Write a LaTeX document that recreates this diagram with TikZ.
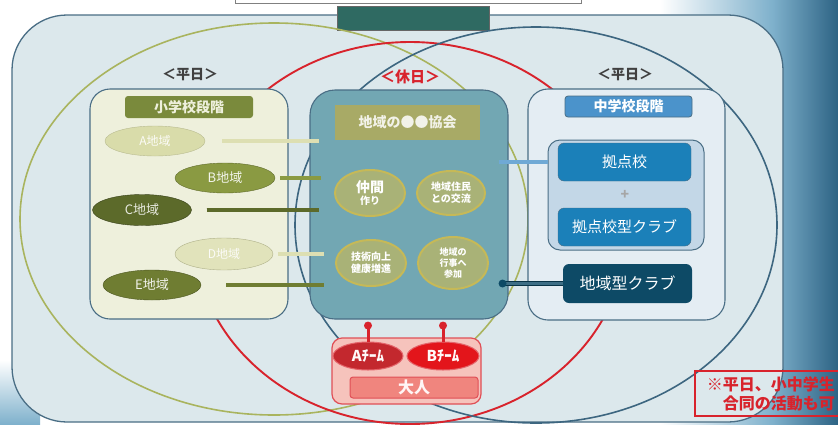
\documentclass[tikz,border=0pt]{standalone}
\usepackage{fontspec}
\setmainfont{Noto Sans CJK JP}
\usetikzlibrary{shapes.geometric,calc}
\definecolor{frame}{HTML}{4A6E85}
\definecolor{bigfill}{HTML}{DCE8EC}
\definecolor{olvline}{HTML}{A9B45E}
\definecolor{redline}{HTML}{D8232C}
\definecolor{bluline}{HTML}{3D6680}
\definecolor{lpanel}{HTML}{EEF0DC}
\definecolor{lhdr}{HTML}{7A8A3C}
\definecolor{midfill}{HTML}{72A7B3}
\definecolor{midhdr}{HTML}{A8AA66}
\definecolor{midov}{HTML}{A9B277}
\definecolor{midovb}{HTML}{C6B957}
\definecolor{rpanel}{HTML}{E4EDF3}
\definecolor{rhdr}{HTML}{4B93CB}
\definecolor{grpfill}{HTML}{C3D7E7}
\definecolor{kyo}{HTML}{1B80B9}
\definecolor{chiiki}{HTML}{0D4A66}
\definecolor{pinkbox}{HTML}{F6C3BC}
\definecolor{darkred}{HTML}{C3282E}
\definecolor{brightred}{HTML}{E3151B}
\definecolor{salmon}{HTML}{F0857E}
\definecolor{paleov}{HTML}{D9DCAA}
\definecolor{oliveB}{HTML}{8A9A42}
\definecolor{oliveC}{HTML}{5C6A2A}
\definecolor{oliveE}{HTML}{6F7D32}
\definecolor{toplbl}{HTML}{2F6A62}
\definecolor{bgdark}{HTML}{2D6384}
\definecolor{bglight}{HTML}{7FB1CC}
\tikzset{
  panel/.style={draw=frame, line width=1.1pt, rounded corners=20pt, inner sep=0pt},
  hdr/.style={rounded corners=3pt, inner sep=0pt, font=\bfseries\fontsize{14}{14}\selectfont},
  oval/.style={ellipse, inner sep=0pt},
  bigoval/.style={ellipse, inner sep=0pt, line width=1.6pt},
  wkday/.style={font=\bfseries\fontsize{14}{14}\selectfont, text=black!75},
  midtxt/.style={text=white, align=center, font=\bfseries\fontsize{10}{12}\selectfont},
  rbox/.style={rounded corners=6pt, inner sep=0pt, text=white, font=\fontsize{15}{15}\selectfont},
  barpale/.style={draw=olvline!80!black, double=paleov!90!white, double distance=3.5pt, line width=0.6pt},
  barB/.style={draw=oliveB!70!black, double=oliveB, double distance=3.5pt, line width=0.6pt},
  barC/.style={draw=oliveC!70!black, double=oliveC, double distance=3.5pt, line width=0.6pt},
  barE/.style={draw=oliveE!70!black, double=oliveE, double distance=3.5pt, line width=0.6pt},
  redbar/.style={draw=redline, line width=3pt},
}
\begin{document}
\begin{tikzpicture}[x=1pt,y=-1pt]
\useasboundingbox (0,0) rectangle (838,424);
% background
\fill[white] (0,0) rectangle (838,424);
\shade[left color=white, right color=bglight] (660,0) rectangle (772,424);
\shade[left color=bglight, right color=bgdark] (772,0) rectangle (838,424);
\shade[top color=white, bottom color=bglight] (0,360) rectangle (40,424);
% top white box
\node[draw=black!50, fill=white, minimum width=346pt, minimum height=9pt, inner sep=0pt] (topbox) at (408,-1.5) {};
% big rounded area
\node[draw=frame, fill=bigfill, line width=1.3pt, rounded corners=55pt, minimum width=771pt, minimum height=407pt, inner sep=0pt] (big) at (397.5,218.5) {};
% top dark label
\node[draw=black!60, fill=toplbl, minimum width=152pt, minimum height=24pt, inner sep=0pt] (toplabel) at (413,18) {};
% big circles
\node[bigoval, draw=olvline, minimum width=508pt, minimum height=392pt] (olvC) at (274,219) {};
\node[bigoval, draw=redline, line width=1.9pt, minimum width=432pt, minimum height=382pt] (redC) at (410,233) {};
\node[bigoval, draw=bluline, minimum width=482pt, minimum height=396pt] (bluC) at (536,225) {};
% weekday / holiday labels
\node[wkday] (wkL) at (190,75) {＜平日＞};
\node[wkday] (wkR) at (625,75) {＜平日＞};
\node[font=\bfseries\fontsize{15}{15}\selectfont, text=redline] (hol) at (410,77) {＜休日＞};
% left panel
\node[panel, fill=lpanel, minimum width=198pt, minimum height=230pt] (L) at (189,204) {};
\node[hdr, fill=lhdr, text=lpanel, minimum width=128pt, minimum height=22pt] (LH) at (189,107) {小学校段階};
\node[oval, fill=paleov, draw=paleov!85!black, minimum width=100pt, minimum height=30pt, text=white!90!paleov, font=\fontsize{12}{12}\selectfont] (A) at (155,141) {A地域};
\node[oval, fill=oliveB, draw=oliveB!70!black, minimum width=100pt, minimum height=30pt, text=white!90!oliveB, font=\fontsize{13}{13}\selectfont] (B) at (225,178) {B地域};
\node[oval, fill=oliveC, draw=oliveC!60!black, minimum width=99pt, minimum height=31pt, text=white!85!oliveC, font=\fontsize{13}{13}\selectfont] (C) at (142,210) {C地域};
\node[oval, fill=paleov!80!white, draw=paleov!80!black, minimum width=98pt, minimum height=32pt, text=white!90!paleov, font=\fontsize{12}{12}\selectfont] (D) at (224,254) {D地域};
\node[oval, fill=oliveE, draw=oliveE!70!black, minimum width=98pt, minimum height=30pt, text=white!90!oliveE, font=\fontsize{13}{13}\selectfont] (E) at (152,285) {E地域};
% middle (holiday) box
\node[panel, fill=midfill, rounded corners=25pt, minimum width=198pt, minimum height=229pt] (M) at (409,204.5) {};
\node[fill=midhdr, inner sep=0pt, minimum width=145pt, minimum height=35pt, text=white!85!midhdr, font=\bfseries\fontsize{14}{14}\selectfont] (MH) at (407.5,122.5) {地域の●●協会};
\node[oval, fill=midov, draw=midovb, line width=2pt, minimum width=70pt, minimum height=46pt, midtxt] (M1) at (370,193) {{\fontsize{14}{14}\selectfont 仲間}\\作り};
\node[oval, fill=midov, draw=midovb, line width=2pt, minimum width=68pt, minimum height=44pt, midtxt] (M2) at (451,193) {地域住民\\との交流};
\node[oval, fill=midov, draw=midovb, line width=2pt, minimum width=70pt, minimum height=46pt, midtxt] (M3) at (371,263) {技術向上\\健康増進};
\node[oval, fill=midov, draw=midovb, line width=2pt, minimum width=70pt, minimum height=52pt, midtxt, font=\bfseries\fontsize{9}{11}\selectfont] (M4) at (453,263) {地域の\\行事へ\\参加};
% left bars
\draw[barpale] ([xshift=17pt]A.east) -- ([xshift=10pt]M.west |- A.east);
\draw[barB] ([xshift=5pt]B.east) -- ([xshift=12pt]M.west |- B.east);
\draw[barC] ([xshift=15pt]C.east) -- ([xshift=10pt]M.west |- C.east);
\draw[barpale] ([xshift=5pt]D.east) -- ([xshift=15pt]M.west |- D.east);
\draw[barE] ([xshift=25pt]E.east) -- ([xshift=15pt]M.west |- E.east);
% right panel
\node[panel, fill=rpanel, minimum width=197pt, minimum height=231pt] (R) at (626.5,204.5) {};
\node[hdr, fill=rhdr, draw=frame, line width=0.8pt, text=white, minimum width=127pt, minimum height=21pt] (RH) at (628.5,106.5) {中学校段階};
\node[draw=frame, fill=grpfill, line width=1pt, rounded corners=12pt, minimum width=156pt, minimum height=110pt, inner sep=0pt] (G) at (626,195) {};
\node[rbox, fill=kyo, draw=frame, minimum width=133pt, minimum height=38pt] (K1) at (624.5,162) {拠点校};
\node[text=black!35, font=\bfseries\fontsize{14}{14}\selectfont] (plus) at (625,195) {+};
\node[rbox, fill=kyo, draw=frame, minimum width=133pt, minimum height=38pt] (K2) at (624.5,227) {拠点校型クラブ};
\node[rbox, fill=chiiki, minimum width=129pt, minimum height=39pt, font=\fontsize{16}{16}\selectfont] (CL) at (627.5,283.5) {地域型クラブ};
% right bars
\coordinate (kyL) at ([xshift=-10pt]M.east |- K1.west);
\coordinate (clL) at ([xshift=-6pt]M.east |- CL.west);
\draw[draw=bluline, double=rhdr!80!white, double distance=3.5pt, line width=0.6pt] (G.west |- K1.west) -- (kyL);
\draw[draw=chiiki!70!black, double=chiiki!80!white, double distance=3.5pt, line width=0.6pt] (CL.west) -- (clL);
\fill[chiiki] (clL) circle (4pt);
% bottom red group
\node[draw=redline!80!white, fill=pinkbox, line width=1.2pt, rounded corners=10pt, minimum width=149pt, minimum height=66pt, inner sep=0pt] (RB) at (406.5,371) {};
\node[oval, fill=darkred, draw=redline!70!white, line width=1pt, minimum width=70pt, minimum height=28pt, text=white!90!pink, font=\bfseries\fontsize{15}{15}\selectfont] (TA) at (368,356) {Aﾁｰﾑ};
\node[oval, fill=brightred, draw=redline!70!white, line width=1pt, minimum width=72pt, minimum height=28pt, text=white!90!pink, font=\bfseries\fontsize{15}{15}\selectfont] (TB) at (443,356) {Bﾁｰﾑ};
\node[fill=salmon, draw=redline!80!white, line width=1pt, rounded corners=3pt, minimum width=128pt, minimum height=21pt, inner sep=0pt, text=white!85!pink, font=\bfseries\fontsize{16}{16}\selectfont] (adult) at (414,387.5) {大人};
\coordinate (dA) at (M.south -| TA.north);
\coordinate (dB) at (M.south -| TB.north);
\draw[redbar] ([yshift=-6pt]dA) -- (TA.north);
\draw[redbar] ([yshift=-6pt]dB) -- (TB.north);
\fill[redline] ([yshift=-6pt]dA) circle (4pt);
\fill[redline] ([yshift=-6pt]dB) circle (4pt);
% note box
\node[draw=redline, line width=1.5pt, minimum width=145pt, minimum height=45pt, inner sep=0pt] (note) at (767.5,393.5) {};
\node[text=redline, font=\bfseries\fontsize{16}{19}\selectfont, align=right, anchor=east, inner sep=0pt] (notetxt) at (835,393.5) {※平日、小中学生\\合同の活動も可};
\end{tikzpicture}
\end{document}
